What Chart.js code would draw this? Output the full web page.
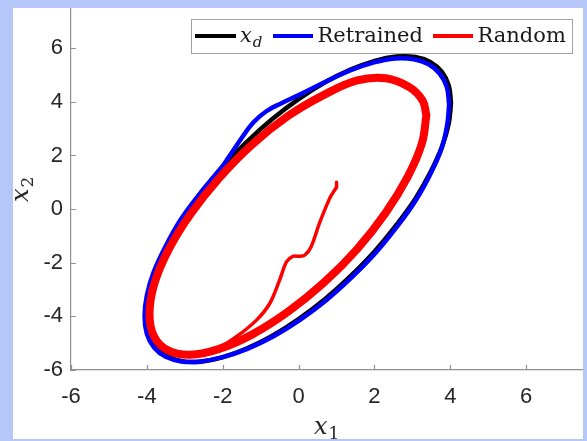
<!DOCTYPE html>
<html lang="en">
<head>
<meta charset="UTF-8">
<meta name="viewport" content="width=device-width, initial-scale=1.0">
<title>Phase portrait</title>
<script src="https://cdn.jsdelivr.net/npm/chart.js"></script>
<style>
  html, body { margin: 0; padding: 0; background: #b4c7f8; overflow: hidden; }
  #wrap { position: absolute; left: 13px; top: 8px; width: 570px; height: 431px; background: #fff; }
</style>
</head>
<body>
<div id="wrap"><canvas id="myChart"></canvas></div>

<script>
  // axes
  const xTicks = [-6, -4, -2, 0, 2, 4, 6];
  const yTicks = [-6, -4, -2, 0, 2, 4, 6];
  const xRange = [-6, 7.5];
  const yRange = [-6, 7.5];

  // x_d (desired orbit), anticlockwise from the right
  const desiredX = [4.02, 3.96, 3.78, 3.48, 3.08, 2.58, 2.01, 1.37, 0.70, 0.00, -0.70, -1.37, -2.01, -2.58, -3.08, -3.48, -3.78, -3.96,
                    -4.02, -3.96, -3.78, -3.48, -3.08, -2.58, -2.01, -1.37, -0.70, 0.00, 0.70, 1.37, 2.01, 2.58, 3.08, 3.48, 3.78, 3.96, 4.02];
  const desiredY = [3.96, 4.61, 5.12, 5.48, 5.67, 5.69, 5.53, 5.20, 4.73, 4.10, 3.35, 2.50, 1.57, 0.59, -0.39, -1.38, -2.32, -3.19,
                    -3.96, -4.61, -5.12, -5.48, -5.67, -5.69, -5.53, -5.20, -4.73, -4.10, -3.35, -2.50, -1.57, -0.59, 0.39, 1.38, 2.32, 3.19, 3.96];

  // Retrained
  const retrainedX = [3.97, 3.91, 3.72, 3.43, 3.04, 2.55, 1.99, 1.36, 0.70, 0.03, -0.45, -0.85, -1.20, -1.55, -1.85, -2.05, -2.31, -2.60,
                      -3.11, -3.51, -3.82, -4.00, -4.06, -4.00, -3.81, -3.50, -3.09, -2.58, -2.00, -1.35, -0.67, 0.03, 0.73, 1.40,
                      2.04, 2.61, 3.10, 3.49, 3.78, 3.92, 3.97];
  const retrainedY = [3.90, 4.55, 5.05, 5.40, 5.59, 5.62, 5.47, 5.17, 4.74, 4.27, 3.95, 3.65, 3.22, 2.55, 1.92, 1.52, 1.08, 0.58,
                      -0.40, -1.40, -2.35, -3.22, -4.00, -4.65, -5.16, -5.51, -5.68, -5.68, -5.52, -5.21, -4.75, -4.14, -3.40, -2.55,
                      -1.62, -0.63, 0.35, 1.35, 2.30, 3.15, 3.90];

  // Random: limit cycle + start-up transient
  const randomX = [3.37, 3.27, 2.92, 2.30, 1.55, 0.67, -0.28, -1.23, -2.11, -2.86, -3.44, -3.81, -3.93, -3.81, -3.44, -2.86, -2.11,
                   -1.23, -0.28, 0.67, 1.55, 2.30, 2.88, 3.25, 3.37];
  const randomY = [3.50, 4.05, 4.55, 4.88, 4.80, 4.26, 3.47, 2.40, 1.13, -0.21, -1.55, -2.82, -3.92, -4.75, -5.27, -5.43, -5.22,
                   -4.68, -3.83, -2.74, -1.48, -0.13, 1.21, 2.44, 3.50];
  const transientX = [1.00, 1.00, 0.92, 0.82, 0.55, 0.33, 0.16, 0.03, -0.15, -0.32, -0.50, -0.76, -1.11, -1.64, -2.08, -2.60];
  const transientY = [1.00, 0.82, 0.64, 0.40, -0.53, -1.41, -1.72, -1.76, -1.76, -1.97, -2.65, -3.52, -4.14, -4.76, -5.14, -5.38];

  const zip = (xs, ys) => xs.map((x, i) => ({x: x, y: ys[i]}));

  const lineSet = (label, xs, ys, color, width, order, tension) => ({
    label: label,
    data: zip(xs, ys),
    showLine: true,
    borderColor: color,
    backgroundColor: color,
    borderWidth: width,
    pointRadius: 0,
    tension: tension,
    borderJoinStyle: 'round',
    borderCapStyle: 'round',
    fill: false,
    order: order
  });

  const AXIS_GREY = '#8f8f8f';
  const SERIF = '"DejaVu Serif", serif';

  function drawSub(ctx, x, y, main, sub, size, subItalic) {
    ctx.font = 'italic ' + size + 'px ' + SERIF;
    ctx.fillText(main, x, y);
    const w = ctx.measureText(main).width;
    ctx.font = (subItalic ? 'italic ' : '') + Math.round(size * 0.7) + 'px ' + SERIF;
    ctx.fillText(sub, x + w + 1, y + size * 0.22);
  }

  const decor = {
    id: 'decor',
    afterDraw(chart) {
      const ctx = chart.ctx;
      const xs = chart.scales.x, ys = chart.scales.y;
      const area = chart.chartArea;
      ctx.save();

      // inward tick marks
      ctx.strokeStyle = AXIS_GREY;
      ctx.lineWidth = 1.2;
      ctx.beginPath();
      xTicks.forEach(v => {
        const px = Math.round(xs.getPixelForValue(v)) + 0.5;
        ctx.moveTo(px, area.bottom);
        ctx.lineTo(px, area.bottom - 5);
      });
      yTicks.forEach(v => {
        const py = Math.round(ys.getPixelForValue(v)) + 0.5;
        ctx.moveTo(area.left, py);
        ctx.lineTo(area.left + 5, py);
      });
      ctx.stroke();

      // axis titles
      ctx.fillStyle = '#262626';
      ctx.textBaseline = 'alphabetic';
      ctx.textAlign = 'left';
      drawSub(ctx, 301, 426, 'x', '1', 24, false);
      ctx.save();
      ctx.translate(15, 194);
      ctx.rotate(-Math.PI / 2);
      drawSub(ctx, 0, 0, 'x', '2', 24, false);
      ctx.restore();

      // legend box
      ctx.fillStyle = '#fff';
      ctx.fillRect(178.5, 11.5, 381, 34);
      ctx.strokeStyle = '#a0a0a0';
      ctx.lineWidth = 1;
      ctx.strokeRect(178.5, 11.5, 381, 34);

      const items = [
        {color: '#000000', x0: 182, x1: 223},
        {color: '#0000ff', x0: 260, x1: 300},
        {color: '#ff0000', x0: 420, x1: 460}
      ];
      ctx.lineWidth = 4;
      items.forEach(it => {
        ctx.strokeStyle = it.color;
        ctx.beginPath();
        ctx.moveTo(it.x0, 28);
        ctx.lineTo(it.x1, 28);
        ctx.stroke();
      });
      ctx.fillStyle = '#1a1a1a';
      drawSub(ctx, 227, 34, 'x', 'd', 21, true);
      ctx.font = '21px ' + SERIF;
      ctx.fillText('Retrained', 304.5, 34);
      ctx.fillText('Random', 464.5, 34);
      ctx.restore();
    }
  };

  const tickFont = {family: '"Liberation Sans", Arial, sans-serif', size: 22};

  new Chart(document.getElementById('myChart'), {
    type: 'scatter',
    data: {
      datasets: [
        lineSet('x_d', desiredX, desiredY, '#000000', 4.5, 4, 0.4),
        lineSet('Retrained', retrainedX, retrainedY, '#0000ff', 4.5, 3, 0.4),
        lineSet('Random', randomX, randomY, '#ff0000', 8, 2, 0.4),
        lineSet('Random transient', transientX, transientY, '#ff0000', 3.5, 1, 0.3)
      ]
    },
    options: {
      responsive: true,
      maintainAspectRatio: false,
      animation: false,
      layout: {padding: 0},
      plugins: {
        legend: {display: false},
        tooltip: {enabled: false},
        title: {display: false}
      },
      scales: {
        x: {
          type: 'linear',
          min: xRange[0],
          max: xRange[1],
          afterBuildTicks: s => { s.ticks = xTicks.map(v => ({value: v})); },
          afterFit: s => { s.height = 69; s.paddingLeft = 0; s.paddingRight = 0; },
          grid: {display: false, drawTicks: false},
          border: {display: true, color: AXIS_GREY, width: 1.2},
          ticks: {color: '#262626', font: tickFont, padding: 14, maxRotation: 0, autoSkip: false}
        },
        y: {
          type: 'linear',
          min: yRange[0],
          max: yRange[1],
          afterBuildTicks: s => { s.ticks = yTicks.map(v => ({value: v})); },
          afterFit: s => { s.width = 58; s.paddingTop = 0; s.paddingBottom = 0; },
          grid: {display: false, drawTicks: false},
          border: {display: true, color: AXIS_GREY, width: 1.2},
          ticks: {color: '#262626', font: tickFont, padding: 8, autoSkip: false}
        }
      }
    },
    plugins: [decor]
  });
</script>
</body>
</html>
